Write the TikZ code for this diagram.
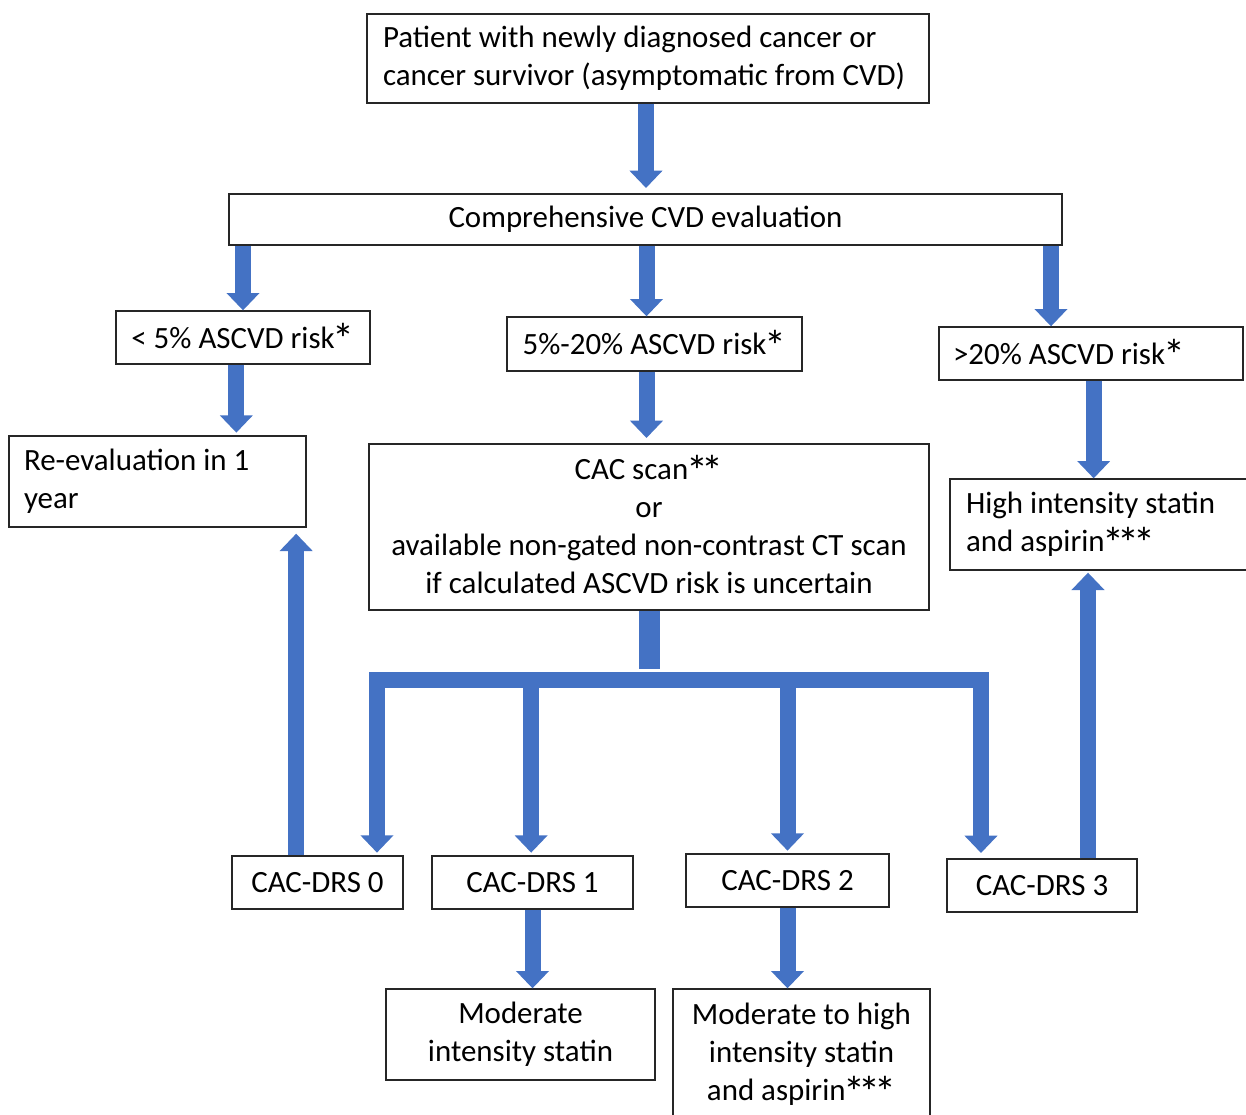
\documentclass[tikz,border=0pt]{standalone}
\usepackage{fontspec}
\setmainfont{Carlito}
\usetikzlibrary{arrows.meta,positioning,calc}
\definecolor{flowblue}{HTML}{4472C4}
\newcommand{\onestar}{\raisebox{-5pt}[0pt][0pt]{\fontsize{33}{0}\selectfont *}}
\newcommand{\stars}[1]{\kern-1.5pt\foreach \k in {1,...,#1}{\ifnum\k>1\kern-5pt\fi\onestar}}
\tikzset{
  box/.style={draw=black!85, line width=1pt, inner sep=0pt, align=center,
    font=\fontsize{23.2}{28.5}\selectfont},
  flow/.style={flowblue, line width=12pt, -{Triangle[width=24pt,length=13pt]}},
}

\begin{document}
\begin{tikzpicture}[x=0.75pt,y=-0.75pt]
	\useasboundingbox (0,0) rectangle (1246,1114);
	
	% boxes
	\node[box, minimum width=421.5pt, minimum height=66.75pt, text width=397.5pt, align=flush left] (patient) at (648,58.5)
		{Patient with newly diagnosed cancer or\\cancer survivor (asymptomatic from CVD)};
	\node[box, minimum width=624.75pt, minimum height=38.25pt] (eval) at (645.5,219.5) {Comprehensive CVD evaluation};
	
	\node[box, minimum width=190.5pt, minimum height=39.75pt] (lo) at (243,337.5) {< 5\% ASCVD risk\stars{1}};
	\node[box, minimum width=221.25pt, minimum height=40.5pt] (mid) at (654.5,344) {5\%-20\% ASCVD risk\stars{1}};
	\node[box, minimum width=228pt, minimum height=39.75pt, text width=207pt, align=flush left] (hi) at (1091,353.5) {>20\% ASCVD risk\stars{1}};
	
	\node[box, minimum width=222.75pt, minimum height=68.25pt, text width=200.25pt, align=flush left] (reeval) at (157.5,481.5)
		{Re-evaluation in 1\\year};
	\node[box, minimum width=420pt, minimum height=124.5pt] (cac) at (649,527)
		{CAC scan\stars{2}\\or\\available non-gated non-contrast CT scan\\if calculated ASCVD risk is uncertain};
	\node[box, minimum width=225pt, minimum height=68.25pt, text width=201pt, align=flush left] (hist) at (1100,524.5)
		{High intensity statin\\and aspirin\stars{3}};
	
	\node[box, minimum width=128.25pt, minimum height=39.75pt] (drs0) at (317.5,882.5) {CAC-DRS 0};
	\node[box, minimum width=150.75pt, minimum height=39.75pt] (drs1) at (532.5,882.5) {CAC-DRS 1};
	\node[box, minimum width=152.25pt, minimum height=39.75pt] (drs2) at (787.5,880.5) {CAC-DRS 2};
	\node[box, minimum width=142.5pt, minimum height=39.75pt] (drs3) at (1042,885.5) {CAC-DRS 3};
	
	\node[box, minimum width=201.75pt, minimum height=68.25pt] (mod) at (520.5,1034.5) {Moderate\\intensity statin};
	\node[box, minimum width=192.75pt, minimum height=98.25pt] (modhi) at (801.5,1054.5)
		{Moderate to high\\intensity statin\\and aspirin\stars{3}};
	
	% arrows
	\draw[flow, shorten >=4pt] ([xshift=-1.5pt]patient.south) -- ([xshift=-1.5pt]patient.south |- eval.north);
	\draw[flow] (eval.south -| lo.north) -- (lo.north);
	\draw[flow] ([xshift=-6pt]mid.north |- eval.south) -- ([xshift=-6pt]mid.north);
	\draw[flow] ([xshift=-30pt]hi.north |- eval.south) -- ([xshift=-30pt]hi.north);
	
	\draw[flow, shorten >=2pt] ([xshift=-5pt]lo.south) -- ([xshift=-5pt]lo.south |- reeval.north);
	\draw[flow, shorten >=4pt] ([xshift=-6pt]mid.south) -- ([xshift=-6pt]mid.south |- cac.north);
	\draw[flow] ([xshift=2pt]hi.south) -- ([xshift=2pt]hi.south |- hist.north);
	
	% split below the CAC scan
	\draw[flowblue, line width=15.75pt] (cac.south) -- ++(0,58) coordinate (stem);
	\coordinate (barL) at (369,680);
	\coordinate (barR) at (989,680);
	\draw[flowblue, line width=12pt] (barL) -- (barR);
	
	\draw[flow, shorten >=2pt] ([xshift=44.6pt]drs0.north |- barL) -- ([xshift=44.6pt]drs0.north);
	\draw[flow, shorten >=2pt] ([xshift=-1pt]drs1.north |- barL) -- ([xshift=-1pt]drs1.north);
	\draw[flow, shorten >=2pt] (drs2.north |- barL) -- (drs2.north);
	\draw[flow, shorten >=4pt] ([xshift=-45.75pt]drs3.north |- barL) -- ([xshift=-45.75pt]drs3.north);
	
	% back up to the outcomes
	\draw[flow, shorten >=4.5pt] ([xshift=-16pt]drs0.north) -- ([xshift=-16pt]drs0.north |- reeval.south);
	\draw[flow, shorten >=1.5pt] ([xshift=34.5pt]drs3.north) -- ([xshift=34.5pt]drs3.north |- hist.south);
	
	\draw[flow] (drs1.south) -- (drs1.south |- mod.north);
	\draw[flow] (drs2.south) -- (drs2.south |- modhi.north);
\end{tikzpicture}
\end{document}
